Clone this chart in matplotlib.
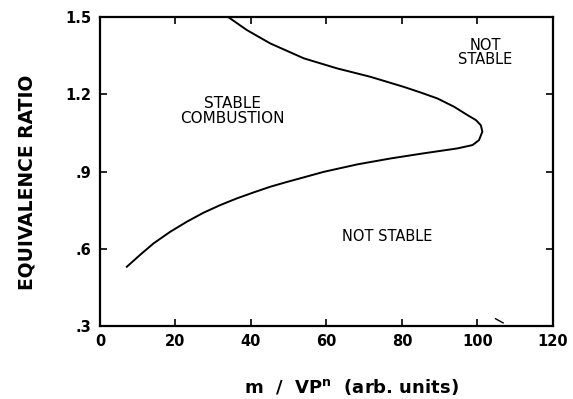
import matplotlib
matplotlib.use("Agg")
import matplotlib.pyplot as plt

# stability boundary (m/VP^n, equivalence ratio)
boundary_x = [7.1, 10.6, 14.2, 18.6, 23.0, 27.4, 31.9, 36.3, 40.7, 45.1, 49.6,
              53.1, 59.3, 68.2, 77.0, 85.8, 94.7, 98.7, 100.4, 101.3, 100.9,
              99.6, 97.4, 93.8, 89.4, 85.0, 80.5, 71.7, 62.8, 54.0, 45.1,
              38.9, 34.1]
boundary_y = [0.530, 0.576, 0.621, 0.666, 0.705, 0.740, 0.770, 0.796, 0.819,
              0.841, 0.860, 0.874, 0.899, 0.928, 0.951, 0.971, 0.990, 1.003,
              1.022, 1.055, 1.080, 1.100, 1.119, 1.152, 1.184, 1.207, 1.229,
              1.268, 1.301, 1.340, 1.398, 1.450, 1.499]

# small stray stroke near the lower right corner
stray_x = [104.8, 106.8]
stray_y = [0.328, 0.312]

x_ticks = [0, 20, 40, 60, 80, 100, 120]
y_ticks = [0.3, 0.6, 0.9, 1.2, 1.5]
y_tick_labels = ['.3', '.6', '.9', '1.2', '1.5']

plt.rcParams['font.family'] = ['DejaVu Sans']

fig = plt.figure(figsize=(5.73, 3.99), dpi=100)
ax = fig.add_axes([0.1745, 0.183, 0.7905, 0.774])

ax.plot(boundary_x, boundary_y, color='black', linewidth=1.4,
        solid_joinstyle='round')
ax.plot(stray_x, stray_y, color='black', linewidth=1.0)

ax.set_xlim(0, 120)
ax.set_ylim(0.3, 1.5)
ax.set_xticks(x_ticks)
ax.set_xticklabels([str(v) for v in x_ticks])
ax.set_yticks(y_ticks)
ax.set_yticklabels(y_tick_labels)

ax.tick_params(direction='in', length=5, width=1.2, top=True, right=True,
               labelsize=10.5, pad=6)
for lbl in ax.get_xticklabels() + ax.get_yticklabels():
    lbl.set_fontweight('semibold')
for sp in ax.spines.values():
    sp.set_linewidth(1.6)

ax.text(35.1, 1.135, 'STABLE\nCOMBUSTION', ha='center', va='center',
        fontsize=11, linespacing=1.0)
ax.text(102, 1.364, 'NOT\nSTABLE', ha='center', va='center',
        fontsize=10.5, linespacing=0.9)
ax.text(76, 0.646, 'NOT STABLE', ha='center', va='center', fontsize=10.5)

# axis titles placed where the original has them
fig.text(0.047, 0.544, 'EQUIVALENCE RATIO', rotation=90, ha='center',
         va='center', fontsize=13.5, fontweight='bold')
fig.text(0.614, 0.030, r'm  /  VP$^\mathregular{n}$  (arb. units)',
         ha='center', va='center', fontsize=13, fontweight='semibold')

fig.savefig('out.png', dpi=100)
